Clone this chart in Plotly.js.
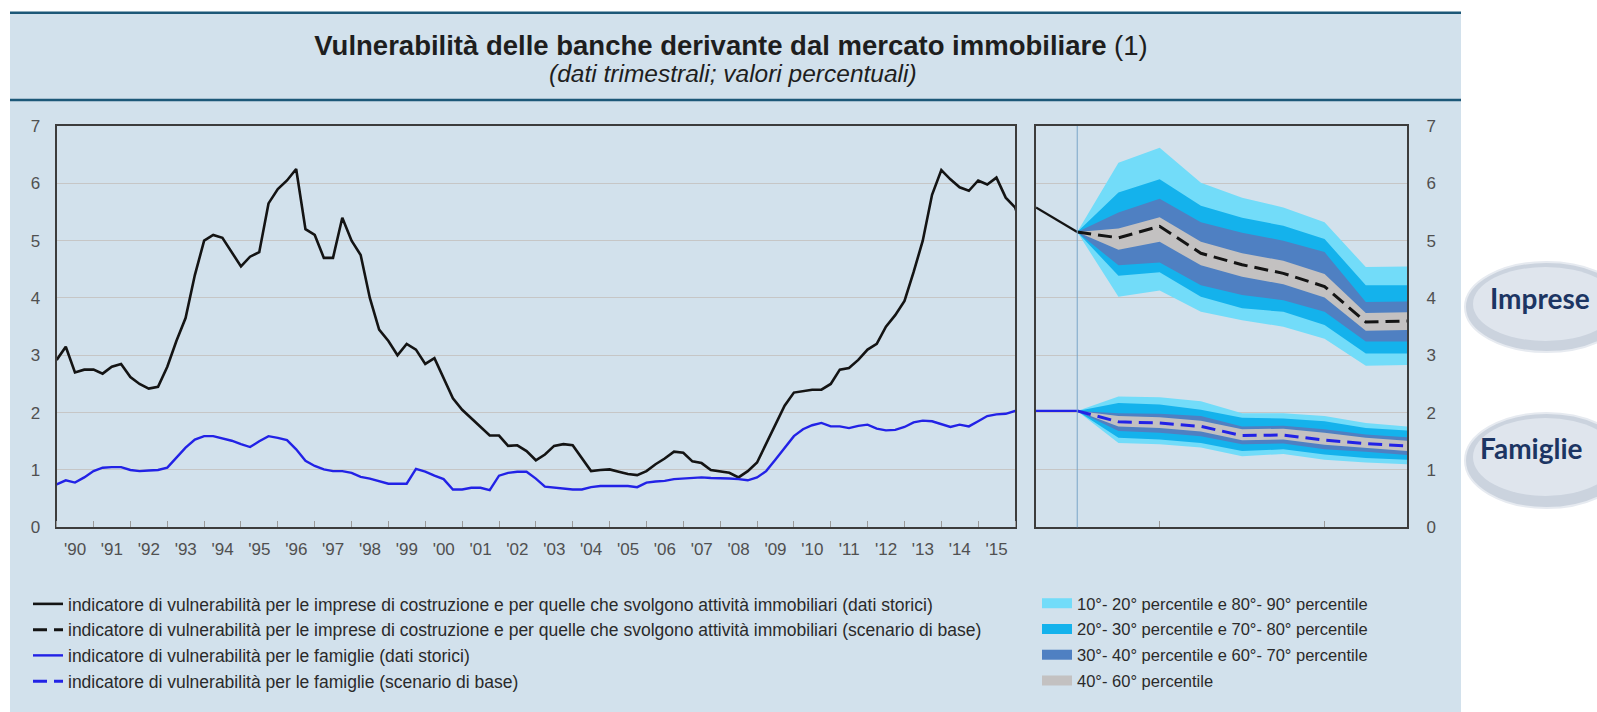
<!DOCTYPE html>
<html>
<head>
<meta charset="utf-8">
<script src="https://cdn.plot.ly/plotly-3.0.1.min.js"></script>
<style>
html,body{margin:0;padding:0;background:#ffffff;}
#chart{width:1597px;height:712px;}
</style>
</head>
<body>
<div id="chart"></div>
<script>
// ---------------- DATA ----------------
// Historical quarterly series, first quarter = 1990 Q1
const histStartYear = 1990;
const histStartQuarter = 1;

// indicatore di vulnerabilità per le imprese di costruzione / immobiliari (dati storici)
const impreseHist = [
  2.92, 3.15, 2.70, 2.75, 2.75, 2.68, 2.80, 2.85, 2.62, 2.50,
  2.42, 2.45, 2.80, 3.25, 3.65, 4.40, 5.00, 5.10, 5.05, 4.80,
  4.55, 4.72, 4.80, 5.65, 5.90, 6.05, 6.25, 5.20, 5.10, 4.70,
  4.70, 5.40, 5.00, 4.75, 4.00, 3.45, 3.25, 3.00, 3.20, 3.10,
  2.85, 2.95, 2.60, 2.25, 2.05, 1.90, 1.75, 1.60, 1.60, 1.42,
  1.43, 1.33, 1.17, 1.27, 1.42, 1.45, 1.43, 1.20, 0.98, 1.00,
  1.01, 0.97, 0.93, 0.91, 0.98, 1.10, 1.20, 1.32, 1.30, 1.15,
  1.12, 1.00, 0.98, 0.95, 0.87, 0.98, 1.13, 1.45, 1.80, 2.12,
  2.35, 2.38, 2.40, 2.40, 2.50, 2.75, 2.78, 2.92, 3.10, 3.20,
  3.50, 3.70, 3.95, 4.45, 5.00, 5.80, 6.23, 6.07, 5.93, 5.87,
  6.05, 5.98, 6.10, 5.75, 5.58, 5.15
];

// indicatore di vulnerabilità per le famiglie (dati storici)
const famiglieHist = [
  0.75, 0.82, 0.78, 0.87, 0.98, 1.04, 1.05, 1.05, 1.00, 0.98,
  0.99, 1.00, 1.04, 1.21, 1.39, 1.53, 1.59, 1.59, 1.55, 1.51,
  1.45, 1.40, 1.50, 1.59, 1.56, 1.52, 1.36, 1.16, 1.07, 1.01,
  0.98, 0.98, 0.95, 0.88, 0.85, 0.80, 0.76, 0.76, 0.76, 1.02,
  0.97, 0.90, 0.84, 0.66, 0.66, 0.69, 0.69, 0.65, 0.90, 0.95,
  0.97, 0.97, 0.85, 0.71, 0.69, 0.68, 0.66, 0.66, 0.70, 0.72,
  0.72, 0.72, 0.72, 0.70, 0.78, 0.80, 0.81, 0.84, 0.85, 0.87,
  0.87, 0.86, 0.86, 0.85, 0.84, 0.82, 0.87, 0.98, 1.18, 1.39,
  1.59, 1.71, 1.78, 1.82, 1.76, 1.76, 1.73, 1.77, 1.79, 1.72,
  1.69, 1.70, 1.75, 1.83, 1.86, 1.85, 1.80, 1.75, 1.79, 1.76,
  1.85, 1.94, 1.97, 1.98, 2.03, 2.03
];

// Right panel quarters (2016 Q1 - 2018 Q2)
const rightQuarters = ['2016 T1','2016 T2','2016 T3','2016 T4','2017 T1','2017 T2','2017 T3','2017 T4','2018 T1','2018 T2'];
// scenario quarters start at 2016 T2 (last historical observation)
const scenarioQuarters = ['2016 T2','2016 T3','2016 T4','2017 T1','2017 T2','2017 T3','2017 T4','2018 T1','2018 T2'];

// Imprese: scenario di base and percentiles
const impreseBase = [5.15, 5.05, 5.25, 4.78, 4.58, 4.43, 4.20, 3.58, 3.60];
const impreseP10  = [5.15, 4.02, 4.13, 3.76, 3.61, 3.50, 3.29, 2.82, 2.83];
const impreseP20  = [5.15, 4.39, 4.45, 4.02, 3.82, 3.76, 3.53, 3.03, 3.03];
const impreseP30  = [5.15, 4.57, 4.62, 4.22, 4.05, 3.96, 3.76, 3.24, 3.24];
const impreseP40  = [5.15, 4.84, 4.98, 4.57, 4.37, 4.24, 4.01, 3.43, 3.44];
const impreseP60  = [5.15, 5.21, 5.41, 4.98, 4.78, 4.65, 4.42, 3.74, 3.75];
const impreseP70  = [5.15, 5.49, 5.73, 5.32, 5.14, 5.00, 4.80, 3.93, 3.94];
const impreseP80  = [5.15, 5.84, 6.07, 5.61, 5.40, 5.26, 5.03, 4.22, 4.22];
const impreseP90  = [5.15, 6.36, 6.62, 6.01, 5.75, 5.58, 5.32, 4.54, 4.55];

// Famiglie: scenario di base and percentiles
const famiglieBase = [2.03, 1.84, 1.82, 1.76, 1.60, 1.61, 1.52, 1.46, 1.42];
const famiglieP10  = [2.03, 1.47, 1.45, 1.39, 1.24, 1.28, 1.18, 1.13, 1.10];
const famiglieP20  = [2.03, 1.56, 1.53, 1.47, 1.33, 1.36, 1.27, 1.21, 1.18];
const famiglieP30  = [2.03, 1.68, 1.65, 1.59, 1.45, 1.46, 1.36, 1.32, 1.26];
const famiglieP40  = [2.03, 1.76, 1.73, 1.67, 1.52, 1.53, 1.44, 1.38, 1.33];
const famiglieP60  = [2.03, 1.94, 1.92, 1.86, 1.71, 1.72, 1.65, 1.56, 1.51];
const famiglieP70  = [2.03, 1.99, 1.98, 1.94, 1.76, 1.77, 1.71, 1.62, 1.57];
const famiglieP80  = [2.03, 2.17, 2.14, 2.05, 1.91, 1.90, 1.85, 1.73, 1.69];
const famiglieP90  = [2.03, 2.28, 2.27, 2.20, 1.99, 1.99, 1.94, 1.82, 1.76];

// Labels
const titleText = 'Vulnerabilità delle banche derivante dal mercato immobiliare';
const titleNote = '(1)';
const subtitleText = '(dati trimestrali; valori percentuali)';
const seriesNames = [
  'indicatore di vulnerabilità per le imprese di costruzione e per quelle che svolgono attività immobiliari (dati storici)',
  'indicatore di vulnerabilità per le imprese di costruzione e per quelle che svolgono attività immobiliari (scenario di base)',
  'indicatore di vulnerabilità per le famiglie (dati storici)',
  'indicatore di vulnerabilità per le famiglie (scenario di base)'
];
const bandNames = [
  '10°- 20° percentile e 80°- 90° percentile',
  '20°- 30° percentile e 70°- 80° percentile',
  '30°- 40° percentile e 60°- 70° percentile',
  '40°- 60° percentile'
];
const rightTickText = ["'16", "'17", "'18"];
const buttonLabels = ['Imprese', 'Famiglie'];

// ---------------- BUILD ----------------
const W = 1597, H = 712;
const px = v => v / W;          // horizontal pixel -> paper
const py = v => 1 - v / H;      // vertical pixel (from top) -> paper

function quarterDate(i) {
  const q0 = (histStartQuarter - 1) + i;
  const y = histStartYear + Math.floor(q0 / 4);
  const m = (q0 % 4) * 3 + 1;
  return y + '-' + String(m).padStart(2, '0') + '-01';
}
const histDates = impreseHist.map((_, i) => quarterDate(i));

const rX = q => rightQuarters.indexOf(q);
const scenX = scenarioQuarters.map(rX);
const nHistRight = 2;
const histRightQ = rightQuarters.slice(0, nHistRight);
const histRightX = histRightQ.map(rX);

const C_BLACK = '#141414';
const C_BLUE = '#2222e6';
const bandColors = ['#72dcf9', '#14b2ec', '#4f80c2', '#c3c1c1'];
const font = 'Liberation Sans, Arial, Helvetica, sans-serif';

const traces = [];

function band(lo, hi, color) {
  traces.push({x: scenX, y: lo, xaxis: 'x2', yaxis: 'y2', mode: 'lines',
    line: {width: 0, color: color}, showlegend: false, hoverinfo: 'skip'});
  traces.push({x: scenX, y: hi, xaxis: 'x2', yaxis: 'y2', mode: 'lines',
    line: {width: 0, color: color}, fill: 'tonexty', fillcolor: color,
    showlegend: false, hoverinfo: 'skip'});
}
band(impreseP10, impreseP90, bandColors[0]);
band(impreseP20, impreseP80, bandColors[1]);
band(impreseP30, impreseP70, bandColors[2]);
band(impreseP40, impreseP60, bandColors[3]);
band(famiglieP10, famiglieP90, bandColors[0]);
band(famiglieP20, famiglieP80, bandColors[1]);
band(famiglieP30, famiglieP70, bandColors[2]);
band(famiglieP40, famiglieP60, bandColors[3]);

// historical lines, left panel
traces.push({x: histDates, y: impreseHist, xaxis: 'x', yaxis: 'y', mode: 'lines',
  line: {color: C_BLACK, width: 2.6}, name: seriesNames[0], legendgroup: 'g1', legendrank: 1});
traces.push({x: histDates, y: famiglieHist, xaxis: 'x', yaxis: 'y', mode: 'lines',
  line: {color: C_BLUE, width: 2.4}, name: seriesNames[2], legendgroup: 'g3', legendrank: 3});
// historical lines, right panel (last observations)
traces.push({x: histRightX, y: impreseHist.slice(-nHistRight), xaxis: 'x2', yaxis: 'y2', mode: 'lines',
  line: {color: C_BLACK, width: 2.2}, showlegend: false, legendgroup: 'g1'});
traces.push({x: histRightX, y: famiglieHist.slice(-nHistRight), xaxis: 'x2', yaxis: 'y2', mode: 'lines',
  line: {color: C_BLUE, width: 2.2}, showlegend: false, legendgroup: 'g3'});
// baseline scenarios
traces.push({x: scenX, y: impreseBase, xaxis: 'x2', yaxis: 'y2', mode: 'lines',
  line: {color: C_BLACK, width: 3, dash: '14px,7px'}, name: seriesNames[1], legendgroup: 'g2', legendrank: 2});
traces.push({x: scenX, y: famiglieBase, xaxis: 'x2', yaxis: 'y2', mode: 'lines',
  line: {color: C_BLUE, width: 3, dash: '14px,7px'}, name: seriesNames[3], legendgroup: 'g4', legendrank: 4});

// legend entries for percentile bands
bandNames.forEach((n, i) => {
  traces.push({x: [null], y: [null], xaxis: 'x2', yaxis: 'y2', mode: 'lines',
    line: {color: bandColors[i], width: 12}, name: n, legend: 'legend2',
    legendgroup: 'b' + i, legendrank: i + 1, hoverinfo: 'skip'});
});

const frame = {showline: true, mirror: true, linecolor: '#3c3c3c', linewidth: 2};
const tickFont = {family: font, size: 17, color: '#505050'};
const yDomain = [py(527.3), py(126)];

const layout = {
  width: W, height: H,
  margin: {l: 0, r: 0, t: 0, b: 0, pad: 0},
  paper_bgcolor: '#ffffff',
  plot_bgcolor: '#ffffff',
  font: {family: font, color: '#2a2a2a'},
  title: {
    text: '<b>' + titleText + '</b> ' + titleNote,
    font: {family: font, size: 27.5, color: '#1e1e1e'},
    x: px(731), xanchor: 'center', xref: 'paper',
    y: py(45), yanchor: 'middle', yref: 'container'
  },
  xaxis: Object.assign({
    domain: [px(56.7), px(1015)], anchor: 'y', type: 'date',
    range: [histDates[0], quarterDate(104)],
    tick0: histDates[0], dtick: 'M12', tickformat: "'%y", ticklabelmode: 'period',
    ticks: 'inside', ticklen: 6, tickwidth: 1, tickcolor: '#9a9a9a',
    tickfont: tickFont, showgrid: false, zeroline: false, ticklabelstandoff: 5
  }, frame),
  yaxis: Object.assign({
    domain: yDomain, anchor: 'x', range: [0, 7], dtick: 1, tick0: 0,
    showgrid: true, gridcolor: '#c6c6c6', gridwidth: 1, zeroline: false,
    ticks: '', tickfont: tickFont, ticklabelstandoff: 11
  }, frame),
  xaxis2: Object.assign({
    domain: [px(1036), px(1407)], anchor: 'y2', type: 'linear',
    range: [0, rightQuarters.length - 1], tickmode: 'array', tickvals: [3, 7],
    ticks: 'inside', ticklen: 6, tickwidth: 1, tickcolor: '#9a9a9a',
    showticklabels: false, showgrid: false, zeroline: false
  }, frame),
  xaxis3: {
    overlaying: 'x2', anchor: 'y2', side: 'bottom', type: 'linear',
    range: [0, rightQuarters.length - 1], tickmode: 'array',
    tickvals: [1.7, 5, 8], ticktext: rightTickText, ticks: '',
    showline: false, showgrid: false, zeroline: false,
    tickfont: tickFont, ticklabelstandoff: 5
  },
  yaxis2: Object.assign({
    domain: yDomain, anchor: 'x2', side: 'right', range: [0, 7], dtick: 1, tick0: 0,
    showgrid: true, gridcolor: '#c6c6c6', gridwidth: 1, zeroline: false,
    ticks: '', tickfont: tickFont, ticklabelstandoff: 14
  }, frame),
  showlegend: true,
  legend: {
    x: px(28), xanchor: 'left', y: py(586), yanchor: 'top',
    bgcolor: 'rgba(0,0,0,0)', borderwidth: 0,
    font: {family: font, size: 17.5, color: '#2a2a2a'},
    traceorder: 'grouped', tracegroupgap: 0, itemwidth: 30
  },
  legend2: {
    x: px(1037), xanchor: 'left', y: py(586), yanchor: 'top',
    bgcolor: 'rgba(0,0,0,0)', borderwidth: 0,
    font: {family: font, size: 16.5, color: '#2a2a2a'},
    traceorder: 'grouped', tracegroupgap: 1.3, itemwidth: 30
  },
  shapes: [
    // panel background
    {type: 'rect', xref: 'paper', yref: 'paper', x0: px(10), x1: px(1461), y0: 0, y1: py(12.7),
     fillcolor: '#d2e1ec', line: {width: 0}, layer: 'below'},
    {type: 'line', xref: 'paper', yref: 'paper', x0: px(10), x1: px(1461), y0: py(12.7), y1: py(12.7),
     line: {color: '#1d5878', width: 2.5}, layer: 'below'},
    {type: 'line', xref: 'paper', yref: 'paper', x0: px(10), x1: px(1461), y0: py(100), y1: py(100),
     line: {color: '#1d5878', width: 2.5}, layer: 'below'},
    // forecast start marker
    {type: 'line', xref: 'x2', yref: 'y2 domain', x0: rX(scenarioQuarters[0]), x1: rX(scenarioQuarters[0]),
     y0: 0, y1: 1, line: {color: '#79a6c8', width: 1}, layer: 'above'},
    // buttons
    {type: 'circle', xref: 'paper', yref: 'paper', x0: px(1465), x1: px(1628), y0: py(352), y1: py(262),
     fillcolor: '#cbd3de', line: {color: '#e6eaf0', width: 2}},
    {type: 'circle', xref: 'paper', yref: 'paper', x0: px(1473), x1: px(1618), y0: py(341), y1: py(267),
     fillcolor: '#dfe5ed', line: {width: 0}},
    {type: 'circle', xref: 'paper', yref: 'paper', x0: px(1465), x1: px(1628), y0: py(508), y1: py(413),
     fillcolor: '#cbd3de', line: {color: '#e6eaf0', width: 2}},
    {type: 'circle', xref: 'paper', yref: 'paper', x0: px(1473), x1: px(1618), y0: py(496), y1: py(418),
     fillcolor: '#dfe5ed', line: {width: 0}}
  ],
  annotations: [
    {text: '<i>' + subtitleText + '</i>', xref: 'paper', yref: 'paper', x: px(733), y: py(74),
     xanchor: 'center', yanchor: 'middle', showarrow: false,
     font: {family: font, size: 24.5, color: '#1e1e1e'}},
    {text: buttonLabels[0], xref: 'paper', yref: 'paper', x: px(1540), y: py(298),
     xanchor: 'center', yanchor: 'middle', showarrow: false,
     font: {family: 'Lato, Open Sans, sans-serif', size: 28, weight: 700, color: '#1c3563'}},
    {text: buttonLabels[1], xref: 'paper', yref: 'paper', x: px(1531), y: py(448),
     xanchor: 'center', yanchor: 'middle', showarrow: false,
     font: {family: 'Lato, Open Sans, sans-serif', size: 28, weight: 700, color: '#1c3563'}}
  ]
};

Plotly.newPlot('chart', traces, layout, {displayModeBar: false, staticPlot: true});
</script>
</body>
</html>
